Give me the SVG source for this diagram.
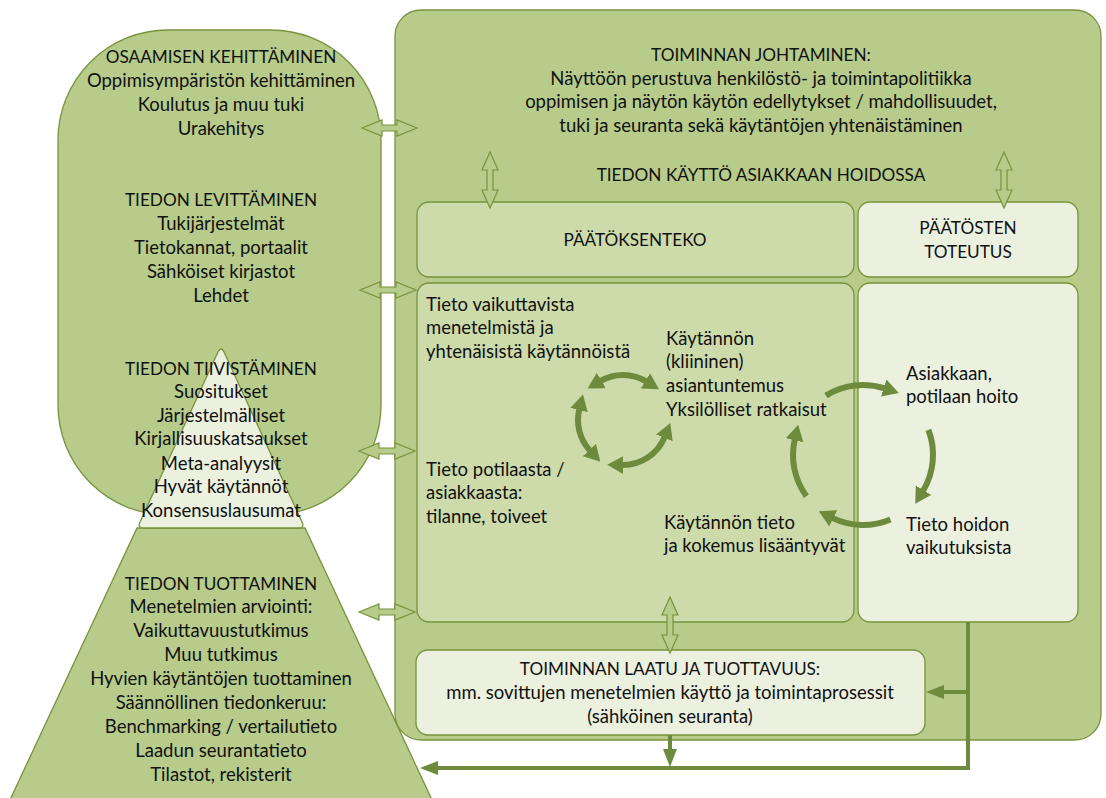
<svg xmlns="http://www.w3.org/2000/svg" width="1106" height="798" viewBox="0 0 1106 798">
<style>
.t{font-family:Lato,"Liberation Sans",sans-serif;font-size:18.5px;fill:#111}
.u{font-size:17.2px}
.c{text-anchor:middle}
.main{fill:#B7CB8B;stroke:#77933C;stroke-width:1.3}
.med{fill:#CDDBAA;stroke:#77933C;stroke-width:1.3}
.light{fill:#EBF0DF;stroke:#77933C;stroke-width:1.3}
.dbl{fill:#B7CB8B;stroke:#77933C;stroke-width:1.2;stroke-linejoin:miter}
.arc{fill:none;stroke:#6E8B3D;stroke-width:6}
.conn{fill:none;stroke:#6E8B3D;stroke-width:4}
</style>
<defs>
<marker id="ah" viewBox="0 0 16 18" refX="1" refY="9" markerWidth="16" markerHeight="18" markerUnits="userSpaceOnUse" orient="auto-start-reverse"><path d="M0,0 L16,9 L0,18 z" fill="#6E8B3D"/></marker>
<marker id="lh" viewBox="0 0 18 14" refX="0" refY="7" markerWidth="18" markerHeight="14" markerUnits="userSpaceOnUse" orient="auto"><path d="M0,0 L18,7 L0,14 z" fill="#6E8B3D"/></marker>
</defs>

<g id="tiedon-kaytto">
<rect class="main" x="395" y="10" width="706" height="730" rx="26"/>
<text class="t u c" x="761" y="61">TOIMINNAN JOHTAMINEN:</text>
<text class="t c" x="761" y="85">Näyttöön perustuva henkilöstö- ja toimintapolitiikka</text>
<text class="t c" x="761" y="108">oppimisen ja näytön käytön edellytykset / mahdollisuudet,</text>
<text class="t c" x="761" y="132">tuki ja seuranta sekä käytäntöjen yhtenäistäminen</text>
<text class="t u c" x="761" y="181">TIEDON KÄYTTÖ ASIAKKAAN HOIDOSSA</text>
</g>

<g id="paatoksenteko">
<rect class="med" x="417" y="202" width="437" height="75" rx="12"/>
<text class="t u c" x="635" y="246">PÄÄTÖKSENTEKO</text>
</g>
<g id="paatosten-toteutus">
<rect class="light" x="858" y="202" width="220" height="75" rx="12"/>
<text class="t u c" x="968" y="234">PÄÄTÖSTEN</text>
<text class="t u c" x="968" y="258">TOTEUTUS</text>
</g>
<g id="paatoksenteko-sisalto">
<rect class="med" x="417" y="283" width="437" height="339" rx="12"/>
<text class="t" x="426" y="311">Tieto vaikuttavista</text>
<text class="t" x="426" y="334">menetelmistä ja</text>
<text class="t" x="426" y="358">yhtenäisistä käytännöistä</text>
<text class="t" x="666" y="345">Käytännön</text>
<text class="t" x="666" y="368">(kliininen)</text>
<text class="t" x="666" y="392">asiantuntemus</text>
<text class="t" x="666" y="416">Yksilölliset ratkaisut</text>
<text class="t" x="426" y="476">Tieto potilaasta /</text>
<text class="t" x="426" y="499">asiakkaasta:</text>
<text class="t" x="426" y="523">tilanne, toiveet</text>
<text class="t" x="664" y="529">Käytännön tieto</text>
<text class="t" x="664" y="552">ja kokemus lisääntyvät</text>
</g>
<g id="toteutus-sisalto">
<rect class="light" x="858" y="283" width="220" height="339" rx="12"/>
<text class="t" x="906" y="380">Asiakkaan,</text>
<text class="t" x="906" y="403">potilaan hoito</text>
<text class="t" x="906" y="531">Tieto hoidon</text>
<text class="t" x="906" y="554">vaikutuksista</text>
</g>
<g id="laatu">
<rect class="light" x="416" y="650" width="509" height="85" rx="12"/>
<text class="t u c" x="670" y="675">TOIMINNAN LAATU JA TUOTTAVUUS:</text>
<text class="t c" x="670" y="699">mm. sovittujen menetelmien käyttö ja toimintaprosessit</text>
<text class="t c" x="670" y="723">(sähköinen seuranta)</text>
</g>

<g id="tiedon-tuottaminen">
<path class="main" d="M137,528 L305,528 L433,802 L9,802 Z"/>
<text class="t u c" x="221" y="590">TIEDON TUOTTAMINEN</text>
<text class="t c" x="221" y="613">Menetelmien arviointi:</text>
<text class="t c" x="221" y="637">Vaikuttavuustutkimus</text>
<text class="t c" x="221" y="661">Muu tutkimus</text>
<text class="t c" x="221" y="685">Hyvien käytäntöjen tuottaminen</text>
<text class="t c" x="221" y="709">Säännöllinen tiedonkeruu:</text>
<text class="t c" x="221" y="733">Benchmarking / vertailutieto</text>
<text class="t c" x="221" y="757">Laadun seurantatieto</text>
<text class="t c" x="221" y="781">Tilastot, rekisterit</text>
</g>
<g id="osaaminen-levittaminen">
<rect class="main" x="58" y="30" width="323" height="485" rx="110"/>
</g>
<g id="tiedon-tiivistaminen">
<path class="light" d="M218,352 Q221,346 224,352 L302,522 Q305,528 298,528 L144,528 Q137,528 140,522 Z"/>
</g>
<g id="vasen-tekstit">
<text class="t u c" x="221" y="63">OSAAMISEN KEHITTÄMINEN</text>
<text class="t c" x="221" y="87">Oppimisympäristön kehittäminen</text>
<text class="t c" x="221" y="111">Koulutus ja muu tuki</text>
<text class="t c" x="221" y="135">Urakehitys</text>
<text class="t u c" x="221" y="206">TIEDON LEVITTÄMINEN</text>
<text class="t c" x="221" y="230">Tukijärjestelmät</text>
<text class="t c" x="221" y="254">Tietokannat, portaalit</text>
<text class="t c" x="221" y="278">Sähköiset kirjastot</text>
<text class="t c" x="221" y="302">Lehdet</text>
<text class="t u c" x="221" y="375">TIEDON TIIVISTÄMINEN</text>
<text class="t c" x="221" y="398">Suositukset</text>
<text class="t c" x="221" y="422">Järjestelmälliset</text>
<text class="t c" x="221" y="445">Kirjallisuuskatsaukset</text>
<text class="t c" x="221" y="470">Meta-analyysit</text>
<text class="t c" x="221" y="493">Hyvät käytännöt</text>
<text class="t c" x="221" y="517">Konsensuslausumat</text>
</g>

<g id="connectors">
<polygon class="dbl" points="362,128 382,120 382,125 397,125 397,120 417,128 397,136 397,131 382,131 382,136"/>
<polygon class="dbl" points="360,290 380,282 380,287 396,287 396,282 416,290 396,298 396,293 380,293 380,298"/>
<polygon class="dbl" points="359,451 379,443 379,448 395,448 395,443 415,451 395,459 395,454 379,454 379,459"/>
<polygon class="dbl" points="359,612 379,604 379,609 395,609 395,604 415,612 395,620 395,615 379,615 379,620"/>
<polygon class="dbl" points="490,152 498,170 493,170 493,190 498,190 490,208 482,190 487,190 487,170 482,170"/>
<polygon class="dbl" points="1004,152 1012,170 1007,170 1007,190 1012,190 1004,208 996,190 1001,190 1001,170 996,170"/>
<polygon class="dbl" points="670,597 678,615 673,615 673,635 678,635 670,653 662,635 667,635 667,615 662,615"/>
<path class="arc" d="M600.5,381 A45,45 0 0 1 646.2,381.4" marker-start="url(#ah)" marker-end="url(#ah)"/>
<path class="arc" d="M590.1,450.7 A45,45 0 0 1 579.3,409.1" marker-start="url(#ah)" marker-end="url(#ah)"/>
<path class="arc" d="M664.7,436.9 A45,45 0 0 1 622.2,465" marker-start="url(#ah)" marker-end="url(#ah)"/>
<path class="arc" d="M825.9,395.6 A70,70 0 0 1 884.6,388.4" marker-end="url(#ah)"/>
<path class="arc" d="M928.4,429.9 A70,70 0 0 1 923,491" marker-end="url(#ah)"/>
<path class="arc" d="M890.4,519.4 A70,70 0 0 1 832.3,517.9" marker-end="url(#ah)"/>
<path class="arc" d="M806.4,496.2 A70,70 0 0 1 794.8,439.3" marker-end="url(#ah)"/>
<path class="conn" d="M968,622 L968,768 L438,768" marker-end="url(#lh)"/>
<path class="conn" d="M968,692 L944,692" marker-end="url(#lh)"/>
<path class="conn" d="M670,735 L670,749" marker-end="url(#lh)"/>
</g>
</svg>
